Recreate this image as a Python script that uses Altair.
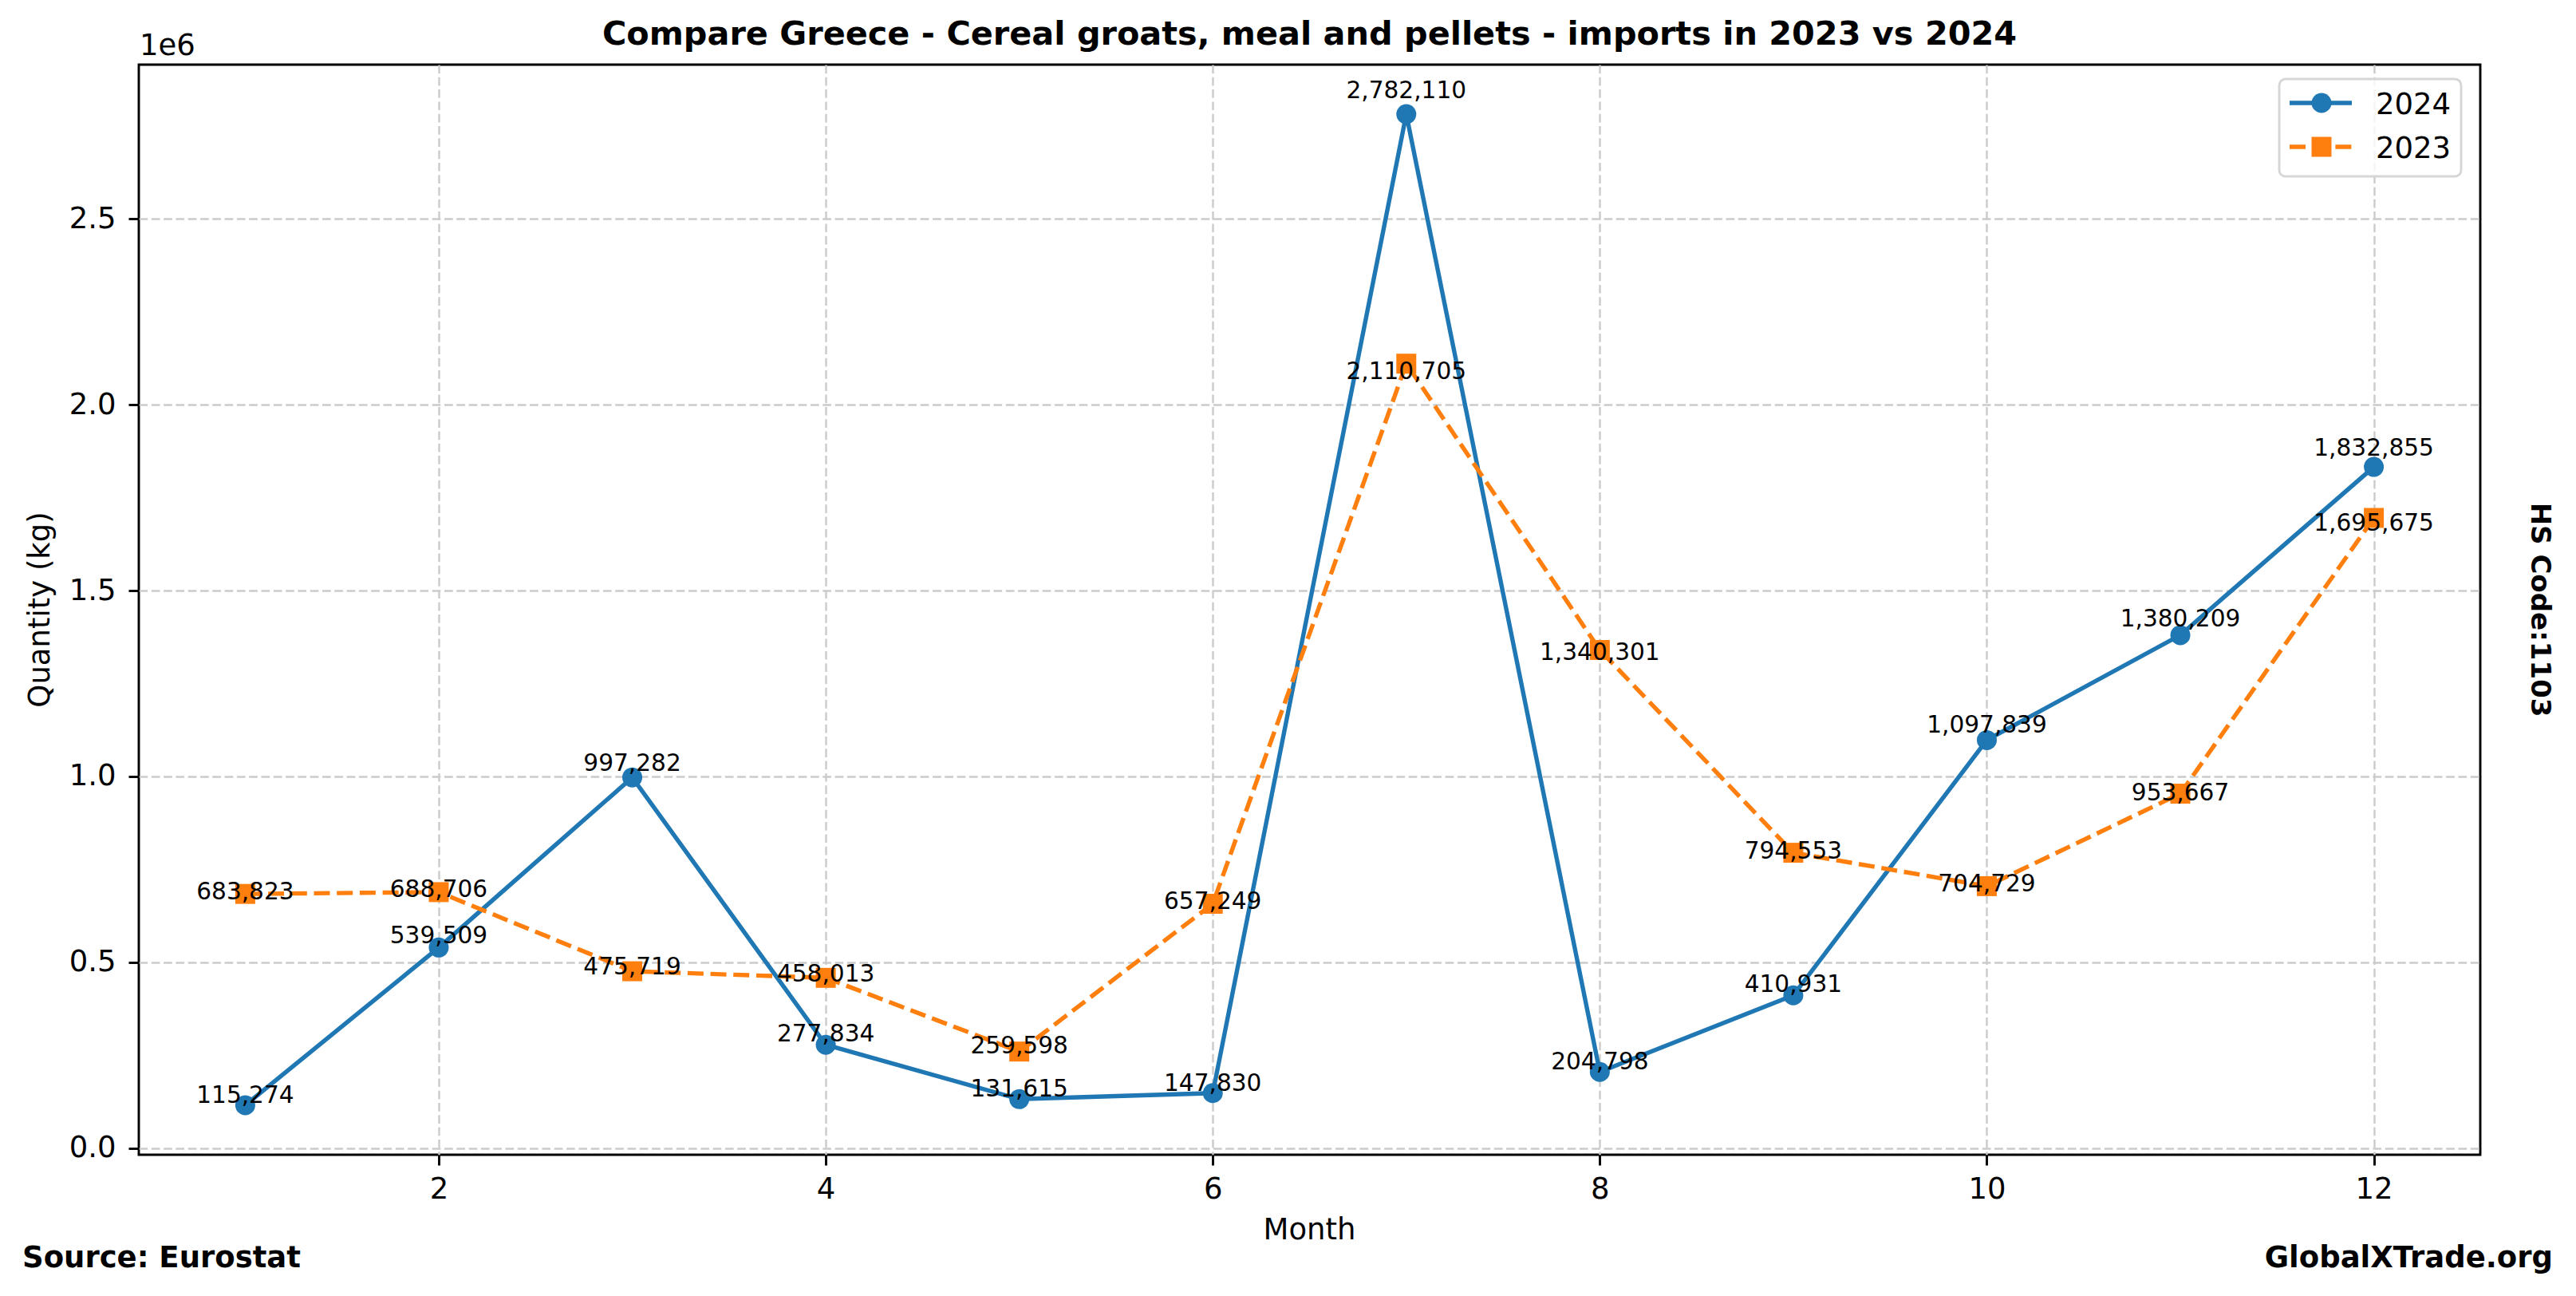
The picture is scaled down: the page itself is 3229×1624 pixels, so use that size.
import altair as alt
import pandas as pd

# ---- data ----
months = list(range(1, 13))
v2024 = [115274, 539509, 997282, 277834, 131615, 147830, 2782110, 204798, 410931, 1097839, 1380209, 1832855]
v2023 = [683823, 688706, 475719, 458013, 259598, 657249, 2110705, 1340301, 794553, 704729, 953667, 1695675]
series = ["2024", "2023"]
colors = ["#1f77b4", "#ff7f0e"]
x_ticks = [2, 4, 6, 8, 10, 12]
y_ticks = [0, 500000, 1000000, 1500000, 2000000, 2500000]
title_text = "Compare Greece - Cereal groats, meal and pellets - imports in 2023 vs 2024"
x_title = "Month"
y_title = "Quantity (kg)"
exp_text = "1e6"
source_text = "Source: Eurostat"
site_text = "GlobalXTrade.org"
hs_text = "HS Code:1103"

# ---- layout ----
W, H = 2935, 1366
FONT = "DejaVu Sans"
allv = v2024 + v2023
lo, hi = min(allv), max(allv)
rng = hi - lo
ydom = [lo - 0.05 * rng, hi + 0.05 * rng]
xdom = [1 - 0.05 * 11, 12 + 0.05 * 11]

df = pd.DataFrame({
    "month": months * 2,
    "value": v2024 + v2023,
    "year": [series[0]] * 12 + [series[1]] * 12,
})
df["label"] = df["value"].map(lambda v: f"{v:,}")

xs = alt.Scale(domain=xdom, nice=False, zero=False)
ys = alt.Scale(domain=ydom, nice=False, zero=False)
X = alt.X("month:Q", scale=xs, axis=alt.Axis(values=x_ticks, title=None, format="d"))
Y = alt.Y("value:Q", scale=ys, axis=alt.Axis(values=y_ticks, title=None,
                                               labelExpr="format(datum.value/1000000, '.1f')"))

base = alt.Chart(df)
d24 = base.transform_filter(alt.datum.year == series[0])
d23 = base.transform_filter(alt.datum.year == series[1])

LW = 5.4
MS = 625

line24 = d24.mark_line(color=colors[0], strokeWidth=LW).encode(x=X, y=Y)
pts24 = d24.mark_point(shape="circle", filled=True, size=MS, opacity=1, color=colors[0]).encode(x=X, y=Y)
line23 = d23.mark_line(color=colors[1], strokeWidth=LW, strokeDash=[20, 8.7]).encode(x=X, y=Y)
pts23 = d23.mark_point(shape="square", filled=True, size=MS, opacity=1, color=colors[1]).encode(x=X, y=Y)

lab24 = d24.transform_calculate(ly="datum.value * 1.014").mark_text(
    fontSize=29.6, font=FONT, color="black", align="center", baseline="alphabetic", dy=-2
).encode(x=alt.X("month:Q", scale=xs), y=alt.Y("ly:Q", scale=ys), text="label:N")
lab23 = d23.transform_calculate(ly="datum.value * 0.98").mark_text(
    fontSize=29.6, font=FONT, color="black", align="center", baseline="alphabetic"
).encode(x=alt.X("month:Q", scale=xs), y=alt.Y("ly:Q", scale=ys), text="label:N")

one = alt.Chart(pd.DataFrame({"k": [0]}))


def txt(text, x, y, size=37, bold=False, align="center", angle=0):
    kw = dict(fontSize=size, font=FONT, color="black", align=align, baseline="alphabetic",
              fontWeight="bold" if bold else "normal")
    if angle:
        kw["angle"] = angle
    return one.mark_text(**kw).encode(x=alt.value(x), y=alt.value(y), text=alt.value(text))


title = txt(title_text, W / 2, -25, size=41.4, bold=True)
exp = txt(exp_text, 1, -12, align="left")
xt = txt(x_title, W / 2, 1472)
yt = txt(y_title, -112, H / 2, angle=270)
src = txt(source_text, -146, 1507, bold=True, align="left")
site = txt(site_text, 3026, 1507, bold=True, align="right")
hs = txt(hs_text, 2999, H / 2, size=34, bold=True, angle=90)

# ---- legend ----
leg_box = one.mark_rect(fill="white", fillOpacity=0.8, stroke="#d6d6d6", strokeWidth=2.9,
                        cornerRadius=8).encode(
    x=alt.value(2683), x2=alt.value(2911), y=alt.value(18), y2=alt.value(140))
leg_l24 = one.mark_rule(color=colors[0], strokeWidth=LW).encode(
    x=alt.value(2696), x2=alt.value(2774), y=alt.value(48))
leg_p24 = one.mark_point(shape="circle", filled=True, size=MS, opacity=1, color=colors[0]).encode(
    x=alt.value(2736), y=alt.value(48))
leg_l23 = one.mark_rule(color=colors[1], strokeWidth=LW, strokeDash=[20, 8.7]).encode(
    x=alt.value(2696), x2=alt.value(2774), y=alt.value(103))
leg_p23 = one.mark_point(shape="square", filled=True, size=MS, opacity=1, color=colors[1]).encode(
    x=alt.value(2736), y=alt.value(103))
leg_t24 = txt(series[0], 2804, 62, align="left")
leg_t23 = txt(series[1], 2804, 117, align="left")

chart = alt.layer(
    line24, pts24, line23, pts23, lab24, lab23,
    title, exp, xt, yt, src, site, hs,
    leg_box, leg_l24, leg_p24, leg_l23, leg_p23, leg_t24, leg_t23,
).properties(
    width=W, height=H,
    autosize=alt.AutoSizeParams(type="none"),
    padding={"left": 166, "top": 73, "right": 112, "bottom": 169},
    background="white",
).configure_view(
    stroke="black", strokeWidth=2.9
).configure_axis(
    domain=False,
    grid=True,
    gridColor="#cbcbcb",
    gridDash=[10.7, 4.6],
    gridWidth=2.4,
    ticks=True,
    tickColor="black",
    tickWidth=2.9,
    tickSize=13,
    labelFont=FONT,
    labelFontSize=37,
    labelColor="black",
).configure_axisX(
    labelPadding=12.6,
).configure_axisY(
    labelPadding=16,
)

chart.save("out.html", embed_options={"renderer": "svg", "actions": False})
